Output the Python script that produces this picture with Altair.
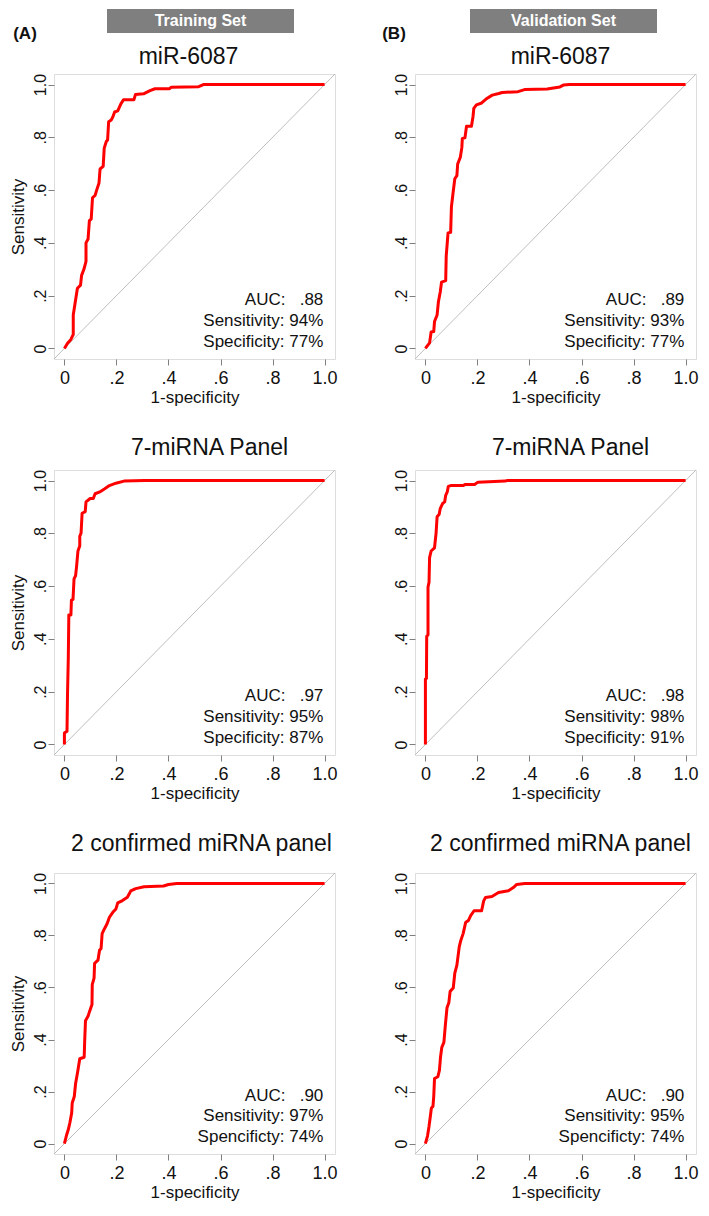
import altair as alt
import pandas as pd

FONT = "Liberation Sans"

# ---------------- data ----------------
set_names = ["Training Set", "Validation Set"]
set_letters = ["(A)", "(B)"]
panel_titles = ["miR-6087", "7-miRNA Panel", "2 confirmed miRNA panel"]
axis_ticks = [0, 0.2, 0.4, 0.6, 0.8, 1.0]
axis_tick_labels = ["0", ".2", ".4", ".6", ".8", "1.0"]
diag_line = [-0.04, 1.04]

train_auc = [".88", ".97", ".90"]
train_sens = ["94%", "95%", "97%"]
train_spec = ["77%", "87%", "74%"]
valid_auc = [".89", ".98", ".90"]
valid_sens = ["93%", "98%", "95%"]
valid_spec = ["77%", "91%", "74%"]
spec_words = ["Specificity", "Specificity", "Spencificty"]

tr1_fpr = [0, 0.012, 0.025, 0.034, 0.034, 0.041, 0.05, 0.062, 0.066, 0.075,
           0.083, 0.083, 0.091, 0.096, 0.103, 0.108, 0.118, 0.124, 0.133, 0.137,
           0.149, 0.153, 0.161, 0.166, 0.170, 0.180, 0.186, 0.193, 0.205, 0.217,
           0.227, 0.267, 0.273, 0.304, 0.329, 0.348, 0.404, 0.41, 0.516, 0.534, 1.0]
tr1_tpr = [0, 0.02, 0.034, 0.053, 0.127, 0.171, 0.228, 0.24, 0.277, 0.30,
           0.33, 0.40, 0.415, 0.484, 0.49, 0.571, 0.58, 0.60, 0.627, 0.68,
           0.69, 0.759, 0.784, 0.79, 0.859, 0.866, 0.877, 0.896, 0.90, 0.927,
           0.942, 0.942, 0.962, 0.965, 0.977, 0.984, 0.984, 0.99, 0.992, 1.0, 1.0]

va1_fpr = [0, 0.016, 0.022, 0.032, 0.035, 0.045, 0.05, 0.057, 0.062, 0.078,
           0.080, 0.084, 0.087, 0.097, 0.10, 0.106, 0.113, 0.121, 0.124, 0.134,
           0.14, 0.142, 0.152, 0.158, 0.177, 0.183, 0.186, 0.196, 0.214, 0.233,
           0.257, 0.282, 0.295, 0.356, 0.381, 0.468, 0.517, 0.53, 0.554, 1.0]
va1_tpr = [0, 0.021, 0.062, 0.064, 0.102, 0.127, 0.177, 0.214, 0.251, 0.257,
           0.351, 0.40, 0.438, 0.44, 0.537, 0.587, 0.643, 0.655, 0.699, 0.724,
           0.761, 0.796, 0.798, 0.842, 0.842, 0.879, 0.91, 0.923, 0.929, 0.945,
           0.96, 0.966, 0.97, 0.973, 0.981, 0.983, 0.991, 0.998, 1.0, 1.0]

tr2_fpr = [0, 0, 0.01, 0.012, 0.015, 0.017, 0.025, 0.027, 0.033, 0.037,
           0.043, 0.047, 0.052, 0.059, 0.059, 0.064, 0.068, 0.08, 0.083, 0.099,
           0.111, 0.118, 0.136, 0.155, 0.173, 0.198, 0.229, 0.309, 1.0]
tr2_tpr = [0, 0.043, 0.05, 0.193, 0.33, 0.491, 0.491, 0.547, 0.55, 0.627,
           0.64, 0.677, 0.733, 0.752, 0.789, 0.801, 0.876, 0.882, 0.919, 0.932,
           0.932, 0.95, 0.957, 0.969, 0.981, 0.99, 0.998, 1.0, 1.0]

va2_fpr = [0, 0, 0.004, 0.005, 0.01, 0.01, 0.014, 0.016, 0.022, 0.035,
           0.037, 0.041, 0.045, 0.053, 0.057, 0.066, 0.074, 0.078, 0.084, 0.088,
           0.097, 0.146, 0.152, 0.189, 0.202, 0.307, 0.313, 1.0]
va2_tpr = [0, 0.248, 0.25, 0.41, 0.415, 0.596, 0.615, 0.708, 0.733, 0.745,
           0.764, 0.801, 0.863, 0.872, 0.894, 0.913, 0.919, 0.944, 0.957, 0.978,
           0.981, 0.981, 0.985, 0.985, 0.994, 0.998, 1.0, 1.0]

tr3_fpr = [0, 0.009, 0.015, 0.021, 0.028, 0.03, 0.038, 0.043, 0.051, 0.059,
           0.076, 0.078, 0.081, 0.091, 0.097, 0.106, 0.107, 0.114, 0.116, 0.129,
           0.135, 0.141, 0.145, 0.154, 0.164, 0.173, 0.186, 0.198, 0.205, 0.223,
           0.242, 0.255, 0.274, 0.306, 0.381, 0.4, 0.432, 1.0]
tr3_tpr = [0, 0.035, 0.054, 0.08, 0.118, 0.156, 0.181, 0.231, 0.276, 0.326,
           0.332, 0.396, 0.472, 0.49, 0.509, 0.535, 0.611, 0.636, 0.693, 0.705,
           0.743, 0.75, 0.807, 0.826, 0.845, 0.87, 0.889, 0.902, 0.925, 0.934,
           0.947, 0.971, 0.98, 0.987, 0.99, 0.996, 1.0, 1.0]

va3_fpr = [0, 0.008, 0.014, 0.019, 0.023, 0.029, 0.032, 0.035, 0.048, 0.054,
           0.058, 0.063, 0.071, 0.077, 0.083, 0.09, 0.095, 0.107, 0.113, 0.121,
           0.13, 0.136, 0.145, 0.155, 0.165, 0.174, 0.187, 0.216, 0.224, 0.231,
           0.256, 0.281, 0.319, 0.338, 0.351, 0.382, 1.0]
va3_tpr = [0, 0.029, 0.067, 0.105, 0.137, 0.143, 0.181, 0.25, 0.257, 0.282,
           0.332, 0.37, 0.389, 0.459, 0.522, 0.541, 0.585, 0.598, 0.655, 0.686,
           0.756, 0.781, 0.807, 0.851, 0.857, 0.876, 0.895, 0.895, 0.933, 0.946,
           0.95, 0.965, 0.972, 0.984, 0.996, 1.0, 1.0]

curves = [
    [(tr1_fpr, tr1_tpr), (va1_fpr, va1_tpr)],
    [(tr2_fpr, tr2_tpr), (va2_fpr, va2_tpr)],
    [(tr3_fpr, tr3_tpr), (va3_fpr, va3_tpr)],
]
stats = [(train_auc, train_sens, train_spec), (valid_auc, valid_sens, valid_spec)]

# ---------------- layout / style ----------------
W = 281
GRAY = "#808080"
TXT = "#111111"
label_expr = "[" + ",".join("'%s'" % s for s in axis_tick_labels) + "][round(datum.value*5)]"

row_cfg = [
    dict(height=285, title_gap=10, hspace=43, title_dx=(-6, 5)),
    dict(height=285, title_gap=15, hspace=54, title_dx=(15, 15)),
    dict(height=281, title_gap=22, hspace=54, title_dx=(7, 5)),
]
head_box = [(53, 240), (55, 242)]
head_letter_x = [-29, -21]


def panel(row, col):
    fpr, tpr = curves[row][col]
    auc, sens, spec = (s[row] for s in stats[col])
    cfg = row_cfg[row]

    scale = alt.Scale(domain=diag_line, nice=False, zero=False)
    xaxis = alt.Axis(values=axis_ticks, labelExpr=label_expr, grid=False, domain=False,
                     tickSize=6, tickColor=GRAY, tickWidth=1,
                     labelFont=FONT, labelFontSize=18, labelColor=TXT, labelPadding=4,
                     labelFlush=False, labelOverlap=False,
                     title="1-specificity", titleFont=FONT, titleFontSize=17,
                     titleFontWeight="normal", titleColor=TXT, titlePadding=2)
    yargs = dict(values=axis_ticks, labelExpr=label_expr, grid=False, domain=False,
                 tickSize=6, tickColor=GRAY, tickWidth=1,
                 labelFont=FONT, labelFontSize=16, labelColor=TXT, labelPadding=3,
                 labelAngle=270, labelAlign="center", labelBaseline="alphabetic",
                 labelFlush=False, labelOverlap=False, minExtent=22, maxExtent=22)
    if col == 0:
        yaxis = alt.Axis(title="Sensitivity", titleFont=FONT, titleFontSize=17,
                         titleFontWeight="normal", titleColor=TXT,
                         titlePadding=5, **yargs)
    else:
        yaxis = alt.Axis(title=None, **yargs)

    X = alt.X("fpr:Q", scale=scale, axis=xaxis)
    Y = alt.Y("tpr:Q", scale=scale, axis=yaxis)

    diag_df = pd.DataFrame({"fpr": diag_line, "tpr": diag_line, "k": [0, 1]})
    curve_df = pd.DataFrame({"fpr": fpr, "tpr": tpr, "k": list(range(len(fpr)))})
    notes_df = pd.DataFrame({
        "fpr": [0.995, 0.995, 0.995],
        "tpr": [0.183, 0.105, 0.026],
        "label": ["AUC:\u00a0\u00a0\u00a0" + auc, "Sensitivity: " + sens,
                  spec_words[row] + ": " + spec],
    })
    title_df = pd.DataFrame({"t": [panel_titles[row]]})

    diag = alt.Chart(diag_df).mark_line(color="#BEBEBE", strokeWidth=1).encode(
        x=X, y=Y, order="k:Q")
    curve = alt.Chart(curve_df).mark_line(color="#FF0000", strokeWidth=3,
                                          strokeJoin="round").encode(
        x=X, y=Y, order="k:Q")
    notes = alt.Chart(notes_df).mark_text(align="right", baseline="middle", font=FONT,
                                          fontSize=17, color=TXT).encode(
        x=X, y=Y, text="label:N")
    ttl = alt.Chart(title_df).mark_text(align="center", baseline="alphabetic", font=FONT,
                                        fontSize=23, color=TXT).encode(
        x=alt.value(W / 2 + cfg["title_dx"][col]), y=alt.value(-cfg["title_gap"]),
        text="t:N")
    layers = [diag, curve, notes, ttl]

    if row == 0:
        bx0, bx1 = head_box[col]
        head_df = pd.DataFrame({"s": [set_names[col]], "l": [set_letters[col]]})
        box = alt.Chart(head_df).mark_rect(color="#7F7F7F").encode(
            x=alt.value(bx0), x2=alt.value(bx1), y=alt.value(-65), y2=alt.value(-41))
        htxt = alt.Chart(head_df).mark_text(align="center", baseline="middle", font=FONT,
                                            fontSize=16, fontWeight="bold",
                                            color="white").encode(
            x=alt.value((bx0 + bx1) / 2), y=alt.value(-53), text="s:N")
        letter = alt.Chart(head_df).mark_text(align="center", baseline="middle", font=FONT,
                                              fontSize=17, fontWeight="bold",
                                              color=TXT).encode(
            x=alt.value(head_letter_x[col]), y=alt.value(-40), text="l:N")
        layers += [box, htxt, letter]

    return alt.layer(*layers).properties(width=W, height=cfg["height"])


rows = [alt.hconcat(panel(r, 0), panel(r, 1), spacing=row_cfg[r]["hspace"])
        for r in range(3)]

chart = alt.vconcat(*rows, spacing=30, padding=0).configure_view(
    stroke=GRAY, strokeWidth=1
).configure(font=FONT, background="white")

chart.save("out.html", embed_options={"renderer": "svg", "actions": False})
